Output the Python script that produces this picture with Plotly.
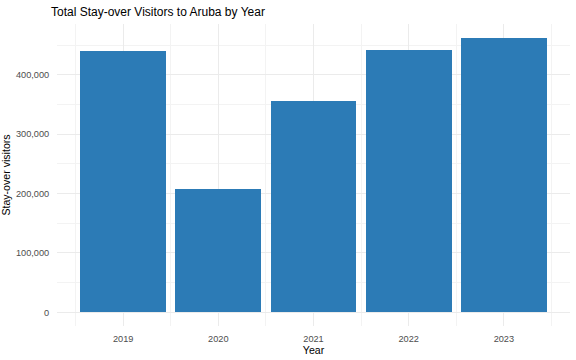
import plotly.graph_objects as go

years = [2019, 2020, 2021, 2022, 2023]
visitors = [440500, 208300, 356500, 442300, 462500]
y_ticks = [0, 100000, 200000, 300000, 400000]
y_tick_labels = ["0", "100,000", "200,000", "300,000", "400,000"]

W, H = 576, 360
fig = go.Figure()
fig.add_trace(go.Bar(x=years, y=visitors, width=0.9,
                     marker=dict(color="#2C7BB6", line=dict(width=0))))

ymax = max(visitors)
fig.update_layout(
    width=W, height=H,
    margin=dict(l=56.5, r=6, t=24, b=34, pad=0, autoexpand=False),
    paper_bgcolor="white", plot_bgcolor="white",
    font=dict(family="Liberation Sans, Arial, sans-serif", color="#4D4D4D"),
    showlegend=False,
    title=dict(text="Total Stay-over Visitors to Aruba by Year",
               x=51/W, xref="container", xanchor="left",
               y=1-11.5/H, yref="container", yanchor="middle",
               font=dict(size=12, color="black")),
    bargap=0,
)
fig.update_xaxes(
    automargin=False,
    range=[2018.305, 2023.695],
    tickvals=years, ticktext=[str(y) for y in years],
    tickfont=dict(size=9.2, color="#4D4D4D"),
    ticks="outside", ticklen=4, tickcolor="rgba(0,0,0,0)",
    showgrid=True, gridcolor="#EBEBEB", gridwidth=1.1,
    minor=dict(tickvals=[2018.5, 2019.5, 2020.5, 2021.5, 2022.5, 2023.5],
               showgrid=True, gridcolor="#F3F3F3", gridwidth=0.6),
    zeroline=False, showline=False,
    title=dict(text="Year", font=dict(size=10.6, color="black"), standoff=3),
)
fig.update_yaxes(
    automargin=False,
    range=[-0.05*ymax, 1.05*ymax],
    tickvals=y_ticks, ticktext=y_tick_labels,
    tickfont=dict(size=9.2, color="#4D4D4D"),
    ticks="outside", ticklen=5, tickcolor="rgba(0,0,0,0)",
    showgrid=True, gridcolor="#EBEBEB", gridwidth=1.1,
    minor=dict(dtick=50000, tick0=0, showgrid=True, gridcolor="#F3F3F3", gridwidth=0.6),
    zeroline=False, showline=False,
    title=dict(text="Stay-over visitors", font=dict(size=10.6, color="black"), standoff=5),
)
fig.write_html("out.html", config={"displayModeBar": False},
               post_script="document.body.style.margin='0';document.body.style.overflow='hidden';")
